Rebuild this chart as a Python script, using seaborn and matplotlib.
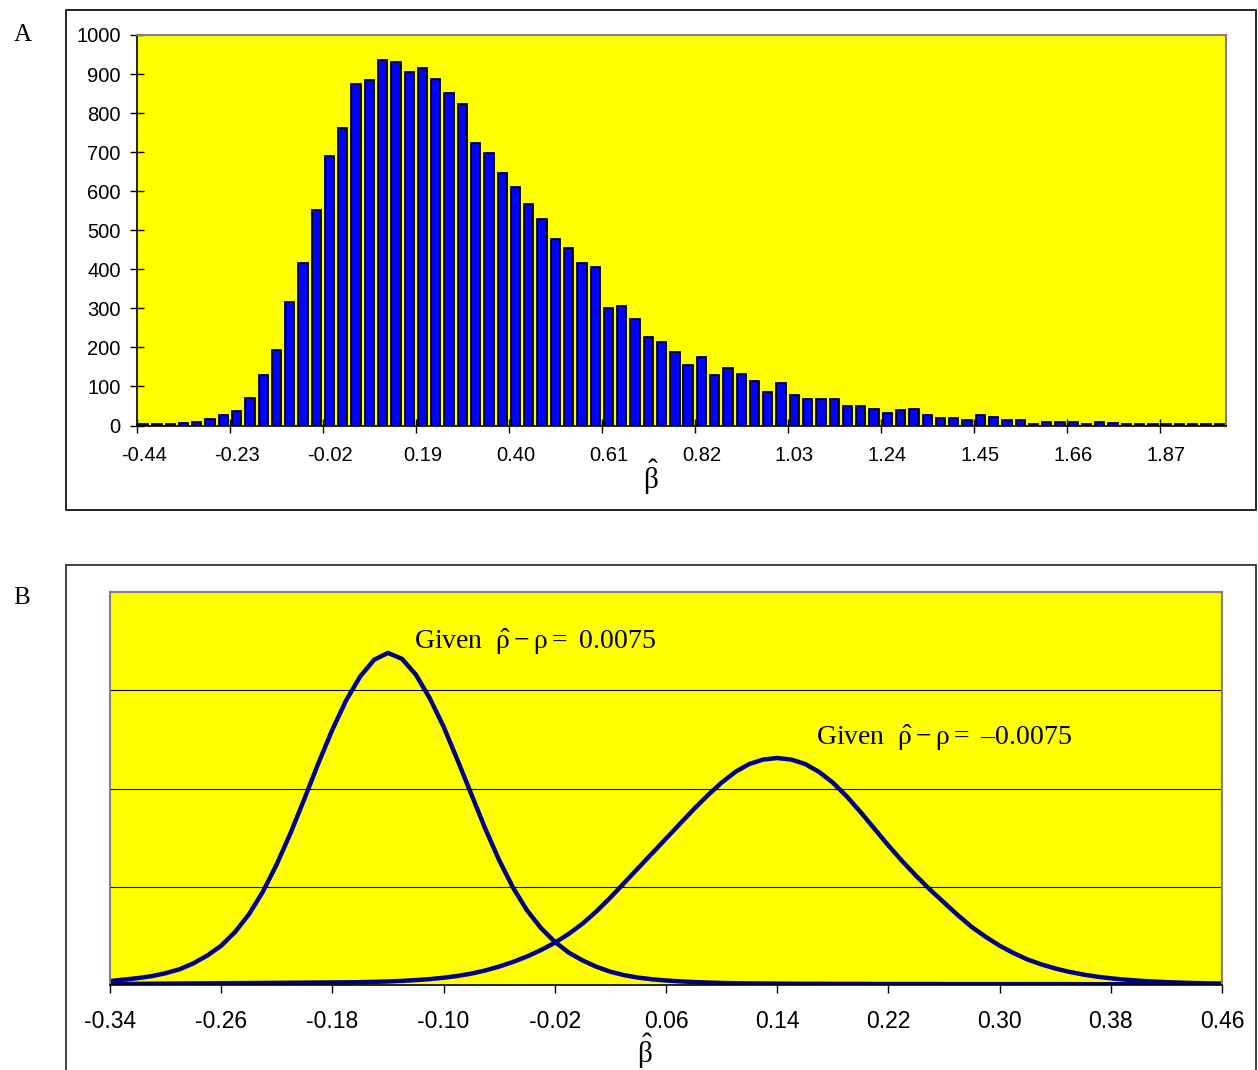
import numpy as np
import matplotlib
matplotlib.use("Agg")
import matplotlib.pyplot as plt
import seaborn as sns
from matplotlib.patches import Rectangle

# --- Panel A: histogram of beta-hat (bin width 0.03, starting at -0.44)
bin_starts = np.round(-0.44 + 0.03 * np.arange(82), 2)
bin_labels = ["%.2f" % b for b in bin_starts]
counts = [3, 4, 4, 6, 9, 17, 26, 38, 71, 130,
          194, 317, 415, 551, 689, 762, 874, 884, 937, 931,
          904, 915, 887, 852, 823, 724, 697, 646, 611, 568,
          528, 478, 455, 415, 406, 300, 305, 272, 226, 213,
          188, 154, 175, 130, 146, 131, 114, 87, 110, 78,
          68, 68, 68, 49, 51, 42, 32, 39, 42, 26,
          19, 19, 15, 26, 21, 14, 14, 3, 9, 9,
          10, 5, 8, 7, 3, 3, 4, 3, 3, 3,
          3, 3]
label_every = 7
yticks_a = [0, 100, 200, 300, 400, 500, 600, 700, 800, 900, 1000]

# --- Panel B: two conditional densities of beta-hat (read every 0.01)
beta_grid = np.round(np.arange(-0.34, 0.4601, 0.01), 2)
curve_pos = [0.040, 0.055, 0.070, 0.090, 0.120, 0.160, 0.220, 0.300, 0.400, 0.540,
             0.720, 0.950, 1.230, 1.550, 1.900, 2.260, 2.600, 2.900, 3.140, 3.310,
             3.380, 3.320, 3.160, 2.920, 2.630, 2.290, 1.940, 1.590, 1.270, 0.990,
             0.760, 0.580, 0.440, 0.330, 0.250, 0.185, 0.135, 0.100, 0.075, 0.058,
             0.046, 0.037, 0.030, 0.025, 0.021, 0.018, 0.016, 0.015, 0.014, 0.013,
             0.012, 0.012, 0.011, 0.011, 0.011, 0.010, 0.010, 0.010, 0.010, 0.010,
             0.009, 0.009, 0.009, 0.009, 0.009, 0.009, 0.009, 0.009, 0.009, 0.009,
             0.008, 0.008, 0.008, 0.008, 0.008, 0.008, 0.008, 0.008, 0.008, 0.008,
             0.008]
curve_neg = [0.010, 0.011, 0.012, 0.013, 0.014, 0.015, 0.016, 0.017, 0.018, 0.019,
             0.020, 0.021, 0.022, 0.023, 0.024, 0.025, 0.026, 0.027, 0.029, 0.032,
             0.036, 0.042, 0.050, 0.060, 0.074, 0.092, 0.116, 0.148, 0.188, 0.235,
             0.290, 0.355, 0.430, 0.520, 0.625, 0.750, 0.890, 1.040, 1.190, 1.340,
             1.490, 1.640, 1.790, 1.930, 2.060, 2.170, 2.250, 2.295, 2.310, 2.295,
             2.250, 2.170, 2.060, 1.920, 1.760, 1.590, 1.420, 1.260, 1.110, 0.970,
             0.840, 0.710, 0.590, 0.490, 0.400, 0.325, 0.260, 0.210, 0.168, 0.134,
             0.107, 0.085, 0.068, 0.055, 0.044, 0.036, 0.029, 0.024, 0.020, 0.017,
             0.015]
xticks_b = [-0.34, -0.26, -0.18, -0.10, -0.02, 0.06, 0.14, 0.22, 0.30, 0.38, 0.46]
label_pos = "Given  $\\hat{\\rho}-\\rho=$ 0.0075"
label_neg = "Given  $\\hat{\\rho}-\\rho=$ \u20130.0075"

plt.rcParams['font.family'] = ['Liberation Sans', 'DejaVu Sans']
plt.rcParams['mathtext.fontset'] = 'custom'
plt.rcParams['mathtext.rm'] = 'Liberation Serif'
plt.rcParams['mathtext.it'] = 'Liberation Serif'
plt.rcParams['mathtext.default'] = 'rm'

W, H = 1258, 1070
fig = plt.figure(figsize=(W / 100, H / 100), dpi=100)

def px_axes(left, top, right, bottom):
    return fig.add_axes([left / W, 1 - bottom / H, (right - left) / W, (bottom - top) / H])

# outer frames
fig.patches.append(Rectangle((66 / W, 1 - 510 / H), 1190 / W, 500 / H, transform=fig.transFigure,
                             fill=False, edgecolor='black', linewidth=1.2))
fig.patches.append(Rectangle((66 / W, -0.01), 1190 / W, 1 - 565 / H + 0.01, transform=fig.transFigure,
                             fill=False, edgecolor='#222222', linewidth=1.2))

serif = ['Liberation Serif', 'DejaVu Serif']
fig.text(23 / W, 1 - 35 / H, "A", family=serif, fontsize=18, ha='center', va='center')
fig.text(22 / W, 1 - 598 / H, "B", family=serif, fontsize=18, ha='center', va='center')

# ---------------- Panel A ----------------
ax = px_axes(137, 35, 1226, 425.5)
ax.set_facecolor('#FFFF00')
sns.barplot(x=bin_labels, y=counts, ax=ax, color='#0000FF', saturation=1,
            edgecolor='black', linewidth=1.3, width=0.7)
n = len(bin_labels)
ax.set_xlim(-0.5, n - 0.5)
ax.set_ylim(0, 1000)
major = list(range(0, n, label_every))
ax.set_xticks(major)
ax.set_xticklabels([bin_labels[i] for i in major], fontsize=14.5)
ax.set_xticks([i - 0.5 for i in major], minor=True)
ax.tick_params(axis='x', which='major', length=0, pad=15)
ax.tick_params(axis='x', which='minor', length=9.5, direction='inout', width=1)
ax.set_yticks(yticks_a)
ax.set_yticklabels([str(v) for v in yticks_a], fontsize=14.5)
ax.tick_params(axis='y', length=9.5, direction='inout', width=1, pad=7)
ax.set_xlabel("")
ax.set_ylabel("")
for s in ['top', 'right']:
    ax.spines[s].set_color('#808080')
    ax.spines[s].set_linewidth(1.5)
for s in ['left', 'bottom']:
    ax.spines[s].set_color('black')
    ax.spines[s].set_linewidth(1.2)
fig.text(651 / W, 1 - 477 / H, "$\\hat{\\beta}$", fontsize=21, ha='center', va='center')

# ---------------- Panel B ----------------
bx = px_axes(110, 592, 1222, 985)
bx.set_facecolor('#FFFF00')
for curve in (curve_pos, curve_neg):
    sns.lineplot(x=beta_grid, y=curve, ax=bx, color='#000080', linewidth=3.2,
                 solid_joinstyle='round', solid_capstyle='round')
bx.set_xlim(-0.34, 0.46)
bx.set_ylim(0, 4)
bx.set_yticks([1, 2, 3])
bx.set_yticklabels([])
bx.tick_params(axis='y', length=0)
bx.yaxis.grid(True, color='black', linewidth=0.8)
bx.set_axisbelow(True)
bx.set_xticks(xticks_b)
bx.set_xticklabels(["%.2f" % v for v in xticks_b], fontsize=16.5)
bx.tick_params(axis='x', length=6, direction='out', width=1, pad=12)
bx.set_xlabel("")
bx.set_ylabel("")
for s in ['top', 'right', 'left']:
    bx.spines[s].set_color('#808080')
    bx.spines[s].set_linewidth(1.5)
bx.spines['bottom'].set_color('black')
bx.spines['bottom'].set_linewidth(1.2)

fig.text(414 / W, 1 - 642 / H, label_pos, fontsize=20, family=serif, ha='left', va='center')
fig.text(816 / W, 1 - 738 / H, label_neg, fontsize=20, family=serif, ha='left', va='center')
fig.text(645 / W, 1 - 1051 / H, "$\\hat{\\beta}$", fontsize=21, ha='center', va='center')

fig.savefig("out.png", dpi=100, facecolor='white')
